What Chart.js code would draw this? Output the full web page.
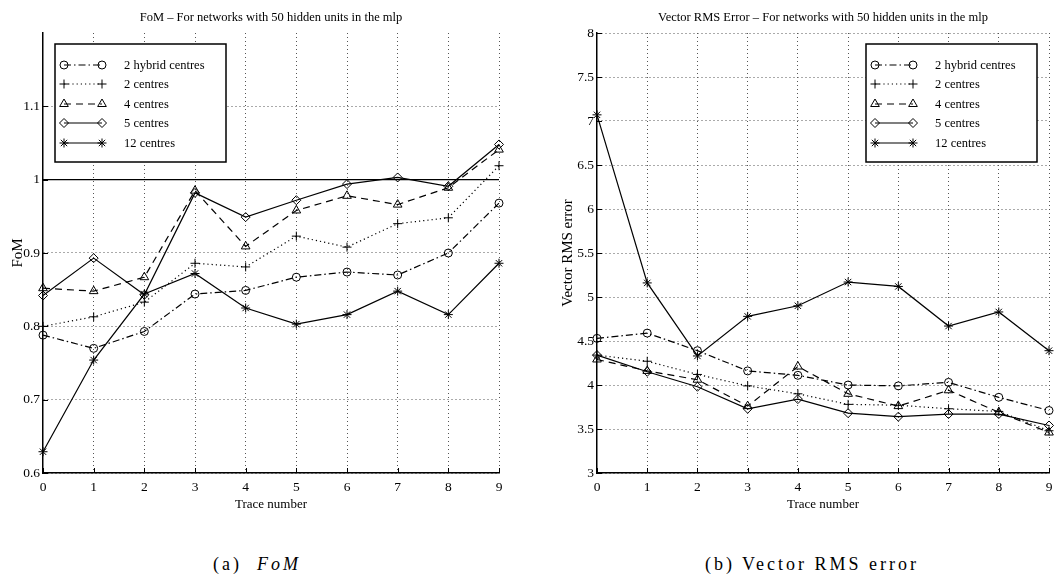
<!DOCTYPE html>
<html>
<head>
<meta charset="utf-8">
<script src="https://cdn.jsdelivr.net/npm/chart.js@4.4.1/dist/chart.umd.min.js"></script>
<style>
  html, body { margin: 0; padding: 0; background: #fff; }
  body { width: 1064px; height: 581px; overflow: hidden; position: relative; font-family: "Liberation Serif", "Times New Roman", serif; }
  #c1 { position: absolute; left: 0; top: 0; }
  #c2 { position: absolute; left: 530px; top: 0; }
  .cap { position: absolute; top: 554px; font-size: 18px; letter-spacing: 3px; white-space: nowrap; transform: translateX(-50%); color: #000; }
</style>
</head>
<body>
<canvas id="c1" width="530" height="540"></canvas>
<canvas id="c2" width="534" height="540"></canvas>
<div class="cap" style="left:257px">(a)&nbsp; <i>FoM</i></div>
<div class="cap" style="left:812px">(b) Vector RMS error</div>
<script>
// ---------------- data ----------------
const traceNumbers = [0, 1, 2, 3, 4, 5, 6, 7, 8, 9];
const seriesLabels = ['2 hybrid centres', '2 centres', '4 centres', '5 centres', '12 centres'];

const fomHybrid2   = [0.788, 0.770, 0.793, 0.844, 0.849, 0.867, 0.874, 0.870, 0.900, 0.968];
const fomCentres2  = [0.800, 0.813, 0.833, 0.886, 0.881, 0.923, 0.908, 0.940, 0.948, 1.019];
const fomCentres4  = [0.852, 0.848, 0.867, 0.985, 0.909, 0.958, 0.978, 0.966, 0.989, 1.041];
const fomCentres5  = [0.842, 0.893, 0.843, 0.982, 0.949, 0.972, 0.994, 1.003, 0.991, 1.048];
const fomCentres12 = [0.629, 0.754, 0.844, 0.872, 0.825, 0.803, 0.816, 0.848, 0.816, 0.886];
const fomUnityX    = [0, 9];
const fomUnityY    = [1, 1];

const rmsHybrid2   = [4.53, 4.59, 4.39, 4.16, 4.11, 4.00, 3.99, 4.03, 3.86, 3.71];
const rmsCentres2  = [4.34, 4.27, 4.12, 3.99, 3.90, 3.78, 3.77, 3.73, 3.70, 3.48];
const rmsCentres4  = [4.29, 4.16, 4.06, 3.76, 4.21, 3.90, 3.76, 3.94, 3.69, 3.46];
const rmsCentres5  = [4.34, 4.15, 3.98, 3.73, 3.84, 3.68, 3.64, 3.67, 3.67, 3.54];
const rmsCentres12 = [7.07, 5.16, 4.33, 4.78, 4.90, 5.17, 5.12, 4.67, 4.83, 4.39];

const fomTickValues = [0.6, 0.7, 0.8, 0.9, 1, 1.1];
const rmsTickValues = [3, 3.5, 4, 4.5, 5, 5.5, 6, 6.5, 7, 7.5, 8];

// ---------------- styles ----------------
const FONT = '"Liberation Serif", "Times New Roman", serif';
const seriesStyles = [
  { dash: [7, 3, 1.5, 3], point: 'circle',   r: 4 },
  { dash: [1.2, 3],       point: 'cross',    r: 4.5 },
  { dash: [7, 5],         point: 'triangle', r: 5 },
  { dash: [],             point: 'rectRot',  r: 4.5 },
  { dash: [],             point: 'star',     r: 4.5 }
];

function makeDatasets(arrays) {
  return arrays.map((arr, k) => ({
    label: seriesLabels[k],
    data: traceNumbers.map((x, i) => ({ x: x, y: arr[i] })),
    borderColor: '#000',
    borderWidth: 1.2,
    borderDash: seriesStyles[k].dash,
    pointStyle: seriesStyles[k].point,
    pointRadius: seriesStyles[k].r,
    pointBorderColor: '#000',
    pointBackgroundColor: 'rgba(0,0,0,0)',
    pointBorderWidth: 1,
    tension: 0,
    fill: false,
    clip: false
  }));
}

// legend drawn MATLAB-style inside plot
function legendPlugin(side) {
  return {
    id: 'matlabLegend',
    afterDraw(chart) {
      const ctx = chart.ctx, ca = chart.chartArea;
      const w = 171, h = 118;
      const left = side === 'left' ? ca.left + 12 : ca.right - 12 - w;
      const top = ca.top + 11;
      ctx.save();
      ctx.fillStyle = '#fff';
      ctx.fillRect(left, top, w, h);
      ctx.lineWidth = 1.5;
      ctx.strokeStyle = '#000';
      ctx.setLineDash([]);
      ctx.strokeRect(left, top, w, h);
      const rowY = [21, 40, 60, 79, 99];
      seriesLabels.forEach((lab, k) => {
        const y = top + rowY[k];
        const x1 = left + 9, x2 = left + 47;
        const st = seriesStyles[k];
        ctx.lineWidth = 1.2;
        ctx.strokeStyle = '#000';
        ctx.setLineDash(st.dash);
        ctx.beginPath();
        ctx.moveTo(x1, y);
        ctx.lineTo(x2, y);
        ctx.stroke();
        ctx.setLineDash([]);
        ctx.lineWidth = 1;
        ctx.fillStyle = 'rgba(0,0,0,0)';
        [x1, x2].forEach(px => {
          Chart.helpers.drawPoint(ctx, { pointStyle: st.point, radius: st.r, rotation: 0, borderWidth: 1 }, px, y);
        });
        ctx.fillStyle = '#000';
        ctx.font = '12.5px ' + FONT;
        ctx.textAlign = 'left';
        ctx.textBaseline = 'middle';
        ctx.fillText(lab, left + 69, y + 1);
      });
      ctx.restore();
    }
  };
}

// inward tick marks like MATLAB
const inwardTicks = {
  id: 'inwardTicks',
  afterDraw(chart) {
    const ctx = chart.ctx, ca = chart.chartArea;
    const xs = chart.scales.x, ys = chart.scales.y;
    ctx.save();
    ctx.strokeStyle = '#000';
    ctx.lineWidth = 1;
    ctx.setLineDash([]);
    ctx.beginPath();
    xs.ticks.forEach(t => {
      const px = Math.round(xs.getPixelForValue(t.value)) + 0.5;
      ctx.moveTo(px, ca.bottom);
      ctx.lineTo(px, ca.bottom - 5);
    });
    ys.ticks.forEach(t => {
      const py = Math.round(ys.getPixelForValue(t.value)) + 0.5;
      ctx.moveTo(ca.left, py);
      ctx.lineTo(ca.left + 5, py);
    });
    ctx.stroke();
    ctx.restore();
  }
};

function makeOptions(cfg) {
  return {
    responsive: false,
    animation: false,
    events: [],
    layout: { padding: { left: 0, right: cfg.padRight, top: 0, bottom: 0 } },
    plugins: {
      legend: { display: false },
      tooltip: { enabled: false },
      title: {
        display: true,
        text: cfg.title,
        fullSize: false,
        color: '#000',
        font: { family: FONT, size: 12.5, weight: 'normal', lineHeight: 1.2 },
        padding: { top: 10, bottom: 8 }
      }
    },
    scales: {
      x: {
        type: 'linear',
        min: 0, max: 9,
        afterBuildTicks: s => { s.ticks = traceNumbers.map(v => ({ value: v })); },
        afterFit: s => { s.height = 67; },
        grid: {
          drawTicks: false,
          color: c => (c.tick && c.tick.value === 0) ? 'rgba(0,0,0,0)' : '#555',
          lineWidth: 1
        },
        border: { display: true, color: '#000', width: 1.5, dash: [1, 3] },
        ticks: {
          padding: 6,
          color: '#000',
          font: { family: FONT, size: 13.5 },
          maxRotation: 0,
          callback: v => String(v)
        },
        title: {
          display: true,
          text: 'Trace number',
          color: '#000',
          font: { family: FONT, size: 13 },
          padding: { top: 0, bottom: 28 }
        }
      },
      y: {
        type: 'linear',
        min: cfg.yMin, max: cfg.yMax,
        afterBuildTicks: s => { s.ticks = cfg.yTicks.map(v => ({ value: v })); },
        afterFit: s => { s.width = cfg.yWidth; },
        grid: {
          drawTicks: false,
          color: '#555',
          lineWidth: 1
        },
        border: { display: true, color: '#000', width: 1.5, dash: [1, 3] },
        ticks: {
          padding: 3,
          color: '#000',
          font: { family: FONT, size: 13.5 },
          callback: v => String(v)
        },
        title: {
          display: true,
          text: cfg.yTitle,
          color: '#000',
          font: { family: FONT, size: 15 },
          padding: { top: cfg.yTitlePad, bottom: 0 }
        }
      }
    }
  };
}

// ---------------- left chart: FoM ----------------
const leftSets = makeDatasets([fomHybrid2, fomCentres2, fomCentres4, fomCentres5, fomCentres12]);
leftSets.unshift({
  label: 'unity',
  data: fomUnityX.map((x, i) => ({ x: x, y: fomUnityY[i] })),
  borderColor: '#000',
  borderWidth: 1.2,
  pointRadius: 0,
  tension: 0,
  fill: false,
  clip: false
});
new Chart(document.getElementById('c1'), {
  type: 'line',
  data: { datasets: leftSets },
  options: makeOptions({
    title: 'FoM \u2013 For networks with 50 hidden units in the mlp',
    padRight: 31,
    yMin: 0.6, yMax: 1.2,
    yTicks: fomTickValues,
    yWidth: 43,
    yTitle: 'FoM',
    yTitlePad: 9
  }),
  plugins: [inwardTicks, legendPlugin('left')]
});

// ---------------- right chart: Vector RMS error ----------------
new Chart(document.getElementById('c2'), {
  type: 'line',
  data: { datasets: makeDatasets([rmsHybrid2, rmsCentres2, rmsCentres4, rmsCentres5, rmsCentres12]) },
  options: makeOptions({
    title: 'Vector RMS Error \u2013 For networks with 50 hidden units in the mlp',
    padRight: 15,
    yMin: 3, yMax: 8,
    yTicks: rmsTickValues,
    yWidth: 67,
    yTitle: 'Vector RMS error',
    yTitlePad: 29
  }),
  plugins: [inwardTicks, legendPlugin('right')]
});
</script>
</body>
</html>
